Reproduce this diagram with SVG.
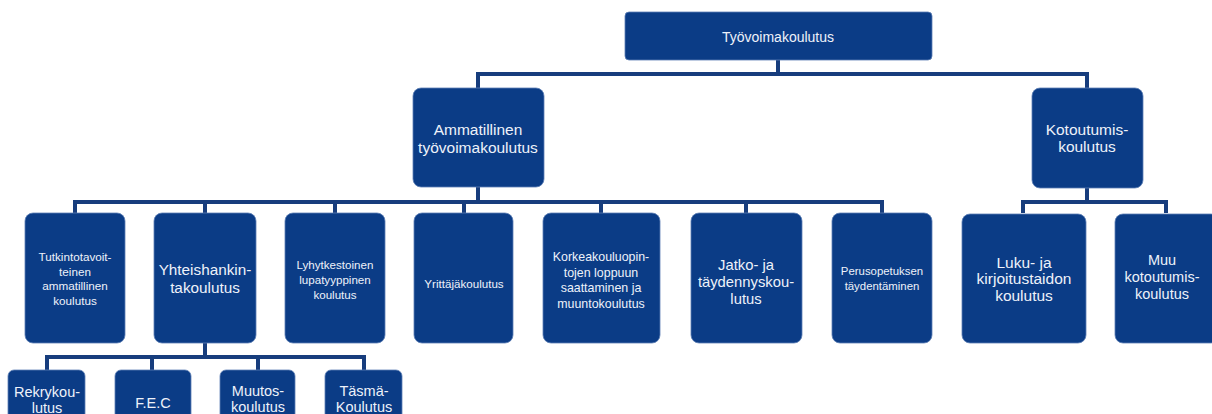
<svg xmlns="http://www.w3.org/2000/svg" width="1212" height="414" viewBox="0 0 1212 414">
<style>
.box{fill:#0b3c86;stroke:#5d7fb5;stroke-width:0.8}
.t{font-family:"Liberation Sans",Arial,sans-serif;fill:#eef2fa;text-anchor:middle}
.c{fill:none;stroke:#173d7d;stroke-width:4;stroke-linejoin:miter}
</style>
<rect width="1212" height="414" fill="#ffffff"/>
<g id="connectors">
<path class="c" d="M778 60V74M478 88V74H1087V88"/>
<path class="c" d="M478 187V202M75 213V202H882V213M205 202V213M335 202V213M464 202V213M601 202V213M746 202V213"/>
<path class="c" d="M1087 188V202M1023 213V202H1166V213"/>
<path class="c" d="M205 343V357M47 370V357H364V370M152 357V370M258 357V370"/>
</g>
<g id="n-tyovoimakoulutus">
<rect class="box" x="625" y="12" width="307" height="48" rx="4"/>
<text class="t" x="778" y="42" font-size="14">Työvoimakoulutus</text>
</g>
<g id="n-ammatillinen">
<rect class="box" x="413" y="88" width="131" height="99" rx="8"/>
<text class="t" x="478" y="135" font-size="15.5">Ammatillinen</text>
<text class="t" x="478" y="153" font-size="15.5">työvoimakoulutus</text>
</g>
<g id="n-kotoutumis">
<rect class="box" x="1032" y="88" width="111" height="100" rx="8"/>
<text class="t" x="1087" y="135" font-size="15.5">Kotoutumis-</text>
<text class="t" x="1087" y="152" font-size="15.5">koulutus</text>
</g>
<g id="n-tutkinto">
<rect class="box" x="25" y="213" width="100" height="130" rx="8"/>
<text class="t" x="75" y="261" font-size="11.7">Tutkintotavoit-</text>
<text class="t" x="75" y="275.5" font-size="11.7">teinen</text>
<text class="t" x="75" y="290" font-size="11.7">ammatillinen</text>
<text class="t" x="75" y="304.5" font-size="11.7">koulutus</text>
</g>
<g id="n-yhteishankinta">
<rect class="box" x="154" y="213" width="102" height="130" rx="8"/>
<text class="t" x="205" y="275" font-size="15.3">Yhteishankin-</text>
<text class="t" x="205" y="293" font-size="15.3">takoulutus</text>
</g>
<g id="n-lyhytkestoinen">
<rect class="box" x="285" y="213" width="100" height="130" rx="8"/>
<text class="t" x="335" y="269" font-size="11.6">Lyhytkestoinen</text>
<text class="t" x="335" y="284" font-size="11.6">lupatyyppinen</text>
<text class="t" x="335" y="299" font-size="11.6">koulutus</text>
</g>
<g id="n-yrittaja">
<rect class="box" x="414" y="213" width="99" height="130" rx="8"/>
<text class="t" x="464" y="288" font-size="11.6">Yrittäjäkoulutus</text>
</g>
<g id="n-korkeakoulu">
<rect class="box" x="543" y="213" width="117" height="130" rx="8"/>
<text class="t" x="601" y="261" font-size="12.4">Korkeakouluopin-</text>
<text class="t" x="601" y="276.5" font-size="12.4">tojen loppuun</text>
<text class="t" x="601" y="292" font-size="12.4">saattaminen  ja</text>
<text class="t" x="601" y="307.5" font-size="12.4">muuntokoulutus</text>
</g>
<g id="n-jatko">
<rect class="box" x="691" y="213" width="111" height="130" rx="8"/>
<text class="t" x="746" y="270" font-size="14.8">Jatko- ja</text>
<text class="t" x="746" y="287" font-size="14.8">täydennyskou-</text>
<text class="t" x="746" y="304" font-size="14.8">lutus</text>
</g>
<g id="n-perusopetus">
<rect class="box" x="832" y="213" width="100" height="130" rx="8"/>
<text class="t" x="882" y="275" font-size="11.4">Perusopetuksen</text>
<text class="t" x="882" y="290" font-size="11.4">täydentäminen</text>
</g>
<g id="n-luku">
<rect class="box" x="962" y="214" width="124" height="129" rx="8"/>
<text class="t" x="1024" y="268" font-size="15.5">Luku- ja</text>
<text class="t" x="1024" y="284" font-size="15.5">kirjoitustaidon</text>
<text class="t" x="1024" y="301" font-size="15.5">koulutus</text>
</g>
<g id="n-muu">
<rect class="box" x="1115" y="214" width="104" height="129" rx="8"/>
<text class="t" x="1162" y="265" font-size="14.5">Muu</text>
<text class="t" x="1162" y="282" font-size="14.5">kotoutumis-</text>
<text class="t" x="1162" y="299" font-size="14.5">koulutus</text>
</g>
<g id="n-rekry">
<rect class="box" x="8" y="370" width="77" height="66" rx="6"/>
<text class="t" x="47" y="397" font-size="14.5">Rekrykou-</text>
<text class="t" x="47" y="413" font-size="14.5">lutus</text>
</g>
<g id="n-fec">
<rect class="box" x="115" y="370" width="76" height="66" rx="6"/>
<text class="t" x="153" y="408" font-size="14.5">F.E.C</text>
</g>
<g id="n-muutos">
<rect class="box" x="220" y="370" width="75" height="66" rx="6"/>
<text class="t" x="258" y="396" font-size="14.5">Muutos-</text>
<text class="t" x="258" y="412" font-size="14.5">koulutus</text>
</g>
<g id="n-tasma">
<rect class="box" x="325" y="370" width="77" height="66" rx="6"/>
<text class="t" x="364" y="396" font-size="14.5">Täsmä-</text>
<text class="t" x="364" y="412" font-size="14.5">Koulutus</text>
</g>
</svg>
